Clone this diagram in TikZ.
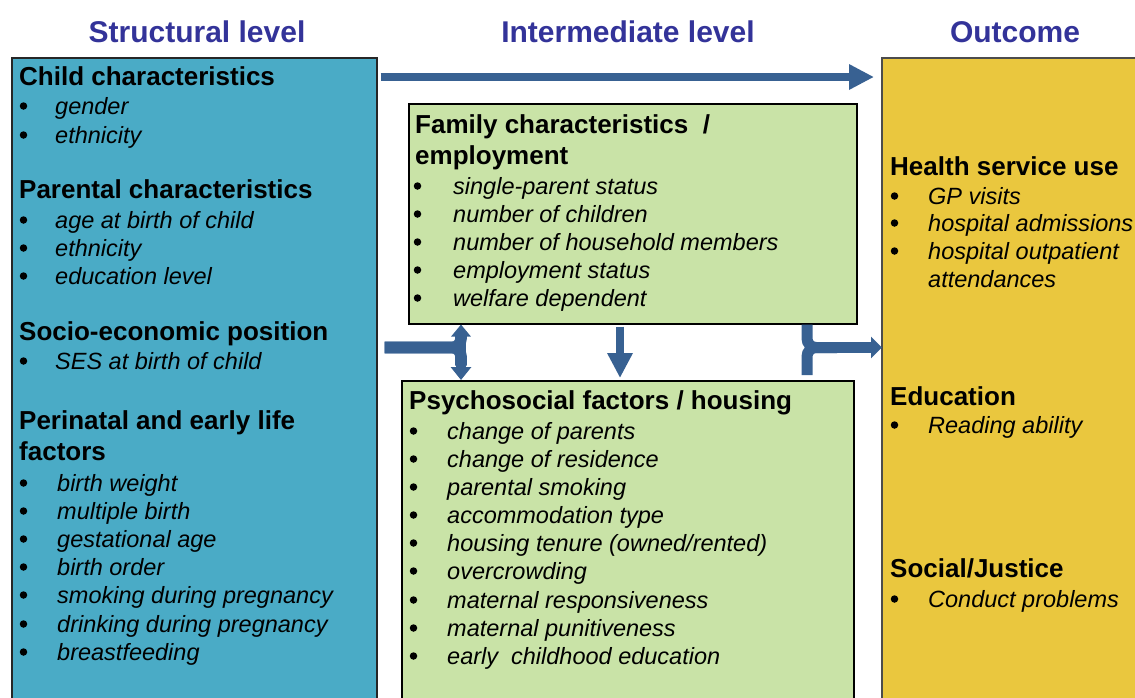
\documentclass[tikz,border=0pt]{standalone}
\usepackage{fontspec}
\setmainfont{Liberation Sans}
\usetikzlibrary{arrows.meta,calc}
\definecolor{titleblue}{RGB}{51,51,153}
\definecolor{leftc}{RGB}{74,171,198}
\definecolor{greenc}{RGB}{201,227,167}
\definecolor{goldc}{RGB}{234,199,62}
\definecolor{arrowc}{RGB}{56,97,146}
\tikzset{
  ttl/.style={anchor=base, inner sep=0, font=\fontsize{30}{34}\selectfont\bfseries, text=titleblue},
  hd/.style={anchor=base west, inner sep=0, font=\fontsize{26}{30}\selectfont\bfseries},
  it/.style={anchor=base west, inner sep=0, font=\fontsize{23.5}{28}\selectfont\itshape},
  dot/.style={circle, fill=black, inner sep=0, minimum size=7.5pt},
  box/.style={draw=black, line width=1.5pt, anchor=north west, inner sep=0},
  bar/.style={draw=arrowc, line width=#1, line cap=butt},
}
\newcommand\itm[5]{\node[dot] (#1b) at (#2+3.5,#5-8) {}; \node[it] (#1) at (#3,#5) {#4};}
\begin{document}
\begin{tikzpicture}[x=1pt,y=-1pt]
\useasboundingbox (0,0) rectangle (1135,697);
% titles
\node[ttl] (t1) at (197,42) {Structural level};
\node[ttl] (t2) at (628,42) {Intermediate level};
\node[ttl] (t3) at (1015,42) {Outcome};
% boxes
\node[box, fill=leftc, draw=black!85, minimum width=365pt, minimum height=660pt] (L) at (11,57) {};
\node[box, fill=goldc, draw=black!70, minimum width=270pt, minimum height=660pt] (R) at (881,57) {};
\node[box, fill=greenc, minimum width=448pt, minimum height=220pt] (FT) at (408,103) {};
\node[box, fill=greenc, minimum width=452pt, minimum height=330pt] (PB) at (401,380) {};
% left texts
\node[hd] (h1) at (19,85) {Child characteristics};
\itm{a1}{20}{55}{gender}{114}
\itm{a2}{20}{55}{ethnicity}{143}
\node[hd] (h2) at (19,198) {Parental characteristics};
\itm{b1}{20}{55}{age at birth of child}{228}
\itm{b2}{20}{55}{ethnicity}{256}
\itm{b3}{20}{55}{education level}{284}
\node[hd] (h3) at (19,340) {Socio-economic position};
\itm{c1}{20}{55}{SES at birth of child}{369}
\node[hd] (h4) at (19,429) {Perinatal and early life};
\node[hd] (h4b) at (19,460) {factors};
\itm{d1}{20}{57}{birth weight}{491}
\itm{d2}{20}{57}{multiple birth}{519}
\itm{d3}{20}{57}{gestational age}{547}
\itm{d4}{20}{57}{birth order}{575}
\itm{d5}{20}{57}{smoking during pregnancy}{603}
\itm{d6}{20}{57}{drinking during pregnancy}{632}
\itm{d7}{20}{57}{breastfeeding}{660}
% middle top
\node[hd] (h5) at (415,133) {Family characteristics \ /};
\node[hd] (h5b) at (415,164) {employment};
\itm{e1}{414}{453}{single-parent status}{194}
\itm{e2}{414}{453}{number of children}{222}
\itm{e3}{414}{453}{number of household members}{250}
\itm{e4}{414}{453}{employment status}{278}
\itm{e5}{414}{453}{welfare dependent}{306}
% middle bottom
\node[hd] (h6) at (409,409) {Psychosocial factors / housing};
\itm{f1}{410}{447}{change of parents}{439}
\itm{f2}{410}{447}{change of residence}{467}
\itm{f3}{410}{447}{parental smoking}{495}
\itm{f4}{410}{447}{accommodation type}{523}
\itm{f5}{410}{447}{housing tenure (owned/rented)}{551}
\itm{f6}{410}{447}{overcrowding}{579}
\itm{f7}{410}{447}{maternal responsiveness}{608}
\itm{f8}{410}{447}{maternal punitiveness}{636}
\itm{f9}{410}{447}{early \ childhood education}{664}
% right
\node[hd] (h7) at (890,175) {Health service use};
\itm{g1}{891}{928}{GP visits}{204}
\itm{g2}{891}{928}{hospital admissions}{231}
\itm{g3}{891}{928}{hospital outpatient}{259}
\node[it] (g4) at (928,287) {attendances};
\node[hd] (h8) at (890,405) {Education};
\itm{k1}{891}{928}{Reading ability}{433}
\node[hd] (h9) at (890,577) {Social/Justice};
\itm{m1}{891}{928}{Conduct problems}{607}
% junction coordinates
\coordinate (jl) at (461,347.5);
\coordinate (jr) at (807,347.5);
% arrows
\draw[bar=8pt, -{Triangle[width=24pt,length=25pt]}] ($(L.north east)+(3,20)$) -- ($(R.north west)+(-7,20)$);
% left T
\draw[bar=11.6pt, rounded corners=9pt] ($(L.east |- jl)+(7,0)$) -- (jl) -- ($(jl)+(0,-14)$);
\draw[bar=11.6pt, rounded corners=9pt] ($(L.east |- jl)+(7,0)$) -- (jl) -- ($(jl)+(0,18)$);
\draw[bar=10pt, {Triangle[width=19pt,length=12pt]}-{Triangle[width=20pt,length=13pt]}] (FT.south -| jl) -- (PB.north -| jl);
% middle down
\draw[bar=7.5pt, -{Triangle[width=24pt,length=25pt]}] ($(FT.south west)+(212,2)$) -- ($(PB.north west)+(219,-2)$);
% right T
\draw[bar=11pt, rounded corners=9pt] (FT.south -| jr) -- (jr) -- ($(jr)+(30,0)$);
\draw[bar=11pt, rounded corners=9pt] ($(PB.north -| jr)+(0,-5)$) -- (jr) -- ($(jr)+(30,0)$);
\draw[bar=11.6pt, -{Triangle[width=21pt,length=11pt]}] ($(jr)+(15,0)$) -- ($(R.west |- jr)+(1,0)$);
\end{tikzpicture}
\end{document}
